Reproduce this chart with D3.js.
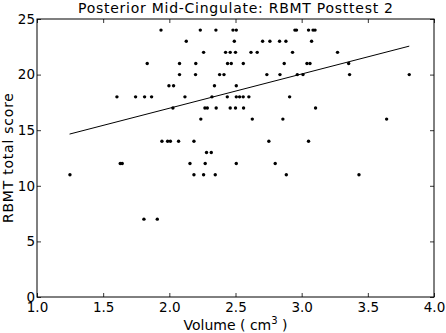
<!DOCTYPE html>
<html><head><meta charset="utf-8">
<script src="https://cdn.jsdelivr.net/npm/d3@7"></script>
<style>body{margin:0;background:#fff;} text{font-family:"DejaVu Sans",sans-serif;}</style>
</head><body>
<script>
// Scores (rows) and the volumes read for each score
const scoreRows = [24,23,22,21,20,19,18,17,16,14,13,12,11,7];
const volumesByScore = [
  [1.937,2.234,2.352,2.481,2.506,2.949,2.961,3.052,3.086,3.101],
  [2.128,2.491,2.705,2.760,2.833,2.881,3.075],
  [2.259,2.425,2.460,2.500,2.617,2.664,2.931,3.271],
  [1.833,2.077,2.200,2.440,2.468,2.559,2.868,3.040,3.063,3.355],
  [2.077,2.198,2.380,2.413,2.737,2.836,2.967,3.010,3.362,3.813],
  [1.997,2.032,2.341,2.506],
  [1.604,1.745,1.813,1.866,2.118,2.322,2.438,2.506,2.531,2.558,2.601,2.909],
  [2.027,2.269,2.287,2.354,2.460,2.500,2.561,3.105],
  [2.238,2.627,2.858,3.642],
  [1.944,1.987,2.008,2.070,2.186,2.752,3.052],
  [2.281,2.317],
  [1.629,1.644,2.156,2.271,2.506,2.800],
  [1.249,2.186,2.259,2.347,2.884,3.433],
  [1.808,1.909]
];
const fitX = [1.246, 3.813];
const fitY = [14.65, 22.56];
const xTicks = [1.0,1.5,2.0,2.5,3.0,3.5,4.0];
const yTicks = [0,5,10,15,20,25];
const titleText = "Posterior Mid-Cingulate: RBMT Posttest 2";
const yLabel = "RBMT total score";

const W = 446, H = 333;
const L = 37, R = 434, T = 19, B = 297;
const svg = d3.select("body").append("svg").attr("width", W).attr("height", H);
const x = d3.scaleLinear().domain([1,4]).range([L,R]);
const y = d3.scaleLinear().domain([0,25]).range([B,T]);

const points = [];
scoreRows.forEach((s,i)=>volumesByScore[i].forEach(v=>points.push({v,s})));

// axes with inward ticks on all sides
const tl = 4;
const gB = svg.append("g").attr("transform",`translate(0,${B})`)
  .call(d3.axisBottom(x).tickValues(xTicks).tickFormat(d3.format(".1f")).tickSizeInner(-tl).tickSizeOuter(0).tickPadding(5));
const gT = svg.append("g").attr("transform",`translate(0,${T})`)
  .call(d3.axisTop(x).tickValues(xTicks).tickFormat("").tickSizeInner(-tl).tickSizeOuter(0));
const gL = svg.append("g").attr("transform",`translate(${L},0)`)
  .call(d3.axisLeft(y).tickValues(yTicks).tickFormat(d3.format("d")).tickSizeInner(-tl).tickSizeOuter(0).tickPadding(2));
const gR = svg.append("g").attr("transform",`translate(${R},0)`)
  .call(d3.axisRight(y).tickValues(yTicks).tickFormat("").tickSizeInner(-tl).tickSizeOuter(0));
[gB,gT,gL,gR].forEach(g=>{
  g.select(".domain").remove();
  g.selectAll("line").attr("stroke","#000").attr("stroke-width",0.8);
  g.selectAll("text").attr("font-size",13.5).attr("fill","#000").attr("font-family","DejaVu Sans");
});
svg.append("rect").attr("x",L).attr("y",T).attr("width",R-L).attr("height",B-T)
  .attr("fill","none").attr("stroke","#000").attr("stroke-width",1);

// fit line
svg.append("path").datum(fitX.map((d,i)=>[d,fitY[i]]))
  .attr("d", d3.line().x(d=>x(d[0])).y(d=>y(d[1])))
  .attr("stroke","#000").attr("stroke-width",1).attr("fill","none");

// points
svg.append("g").selectAll("circle").data(points).join("circle")
  .attr("cx",d=>x(d.v)).attr("cy",d=>y(d.s)).attr("r",1.7).attr("fill","#000");

// title
svg.append("text").attr("x",(L+R)/2).attr("y",12.8).attr("text-anchor","middle")
  .attr("font-size",14).attr("textLength",315).attr("lengthAdjust","spacing").text(titleText);

// x label
const xl = svg.append("text").attr("x",(L+R)/2).attr("y",330).attr("text-anchor","middle").attr("font-size",14);
xl.append("tspan").text("Volume ( cm");
xl.append("tspan").attr("font-size",10).attr("dy",-6).text("3");
xl.append("tspan").attr("dy",6).text(" )");

// y label
svg.append("text").attr("transform",`translate(12.5,${(T+B)/2}) rotate(-90)`)
  .attr("text-anchor","middle").attr("font-size",14).attr("textLength",130).attr("lengthAdjust","spacing").text(yLabel);
</script>
</body></html>
